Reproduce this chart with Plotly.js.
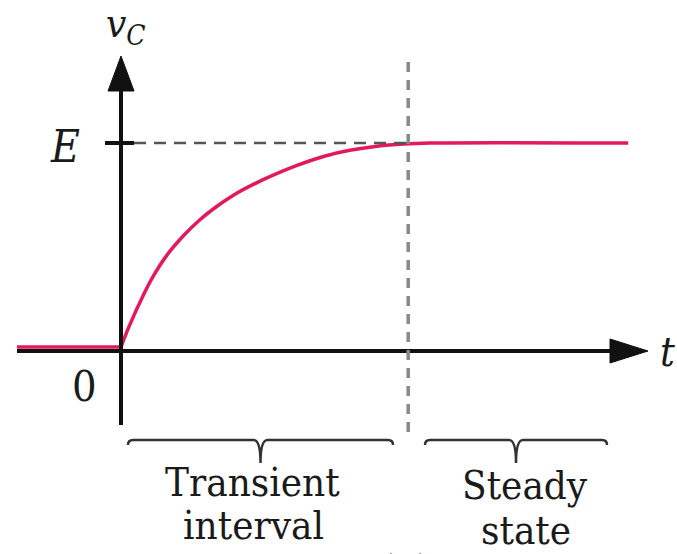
<script src="https://cdn.plot.ly/plotly-3.0.1.min.js"></script>
<style>
  body { margin: 0; background: #fff; }
  #chart { width: 677px; height: 554px; }
</style>
<div id="chart"></div>

<script>
// capacitor voltage (t in units of tau, v in units of E)
const restT  = [-1.3, 0];
const restV  = [0, 0];
const tVals  = [0, 0.10, 0.28, 0.40, 0.57, 0.78, 0.99, 1.20, 1.40, 1.70, 1.86, 2.20, 2.53, 2.86, 3.20, 3.53, 3.86, 6.34];
const vcVals = [0, 0.10, 0.255, 0.345, 0.448, 0.545, 0.625, 0.69, 0.743, 0.806, 0.835, 0.89, 0.934, 0.964, 0.984, 0.995, 1, 1];

const E = 1;           // final value
const tSteady = 3.59;  // where the steady state starts
const regionNames = ["Transient", "interval"];
const steadyNames = ["Steady", "state"];

// picture geometry: origin of the sketch and how many pixels one unit takes
const X0 = 121, PXT = 80;
const Y0 = 347, PXV = 204;
const W = 677, H = 554;
function tx(px) { return (px - X0) / PXT; }
function vy(py) { return (Y0 - py) / PXV; }

const ink = "#111";
const curveColor = "#e3195e";
const serif = "DejaVu Serif Condensed, DejaVu Serif, serif";

// filled triangle for an arrow tip
function tri(pts) {
  return "M " + pts.map(p => p[0] + "," + p[1]).join(" L ") + " Z";
}

// curly brace under the time axis between t0 and t1
function brace(t0, t1) {
  const yb = vy(440), tip = vy(463), hook = vy(445);
  const c = (t0 + t1) / 2;
  const w = 7 / PXT, s = 5 / PXT;
  return "M " + t0 + "," + hook +
    " Q " + t0 + "," + yb + " " + (t0 + s) + "," + yb +
    " L " + (c - w) + "," + yb +
    " Q " + c + "," + yb + " " + c + "," + tip +
    " Q " + c + "," + yb + " " + (c + w) + "," + yb +
    " L " + (t1 - s) + "," + yb +
    " Q " + t1 + "," + yb + " " + t1 + "," + hook;
}

const shapes = [
  // time axis
  { type: "line", xref: "x", yref: "y", x0: tx(17), x1: tx(614), y0: vy(351), y1: vy(351),
    line: { color: ink, width: 4 } },
  { type: "path", xref: "x", yref: "y", fillcolor: ink, line: { color: ink, width: 1 },
    path: tri([[tx(648), vy(351)], [tx(610), vy(339)], [tx(610), vy(363)]]) },
  // voltage axis
  { type: "line", xref: "x", yref: "y", x0: 0, x1: 0, y0: vy(425), y1: vy(88),
    line: { color: ink, width: 4 } },
  { type: "path", xref: "x", yref: "y", fillcolor: ink, line: { color: ink, width: 1 },
    path: tri([[0, vy(56)], [tx(108), vy(91)], [tx(134), vy(91)]]) },
  // E tick
  { type: "line", xref: "x", yref: "y", x0: tx(105), x1: tx(134), y0: E, y1: E,
    line: { color: ink, width: 4 } },
  // guide lines
  { type: "line", xref: "x", yref: "y", x0: tx(134), x1: tSteady, y0: E, y1: E,
    line: { color: "#555", width: 2.5, dash: "12px,8px" } },
  { type: "line", xref: "x", yref: "y", x0: tSteady, x1: tSteady, y0: vy(62), y1: vy(437),
    line: { color: "#888", width: 3.5, dash: "10px,8px" } },
  // braces
  { type: "path", xref: "x", yref: "y", line: { color: "#333", width: 2.5 },
    path: brace(tx(128), tx(393)) },
  { type: "path", xref: "x", yref: "y", line: { color: "#333", width: 2.5 },
    path: brace(tx(425), tx(607)) }
];

function label(text, px, py, size) {
  return { text: text, xref: "x", yref: "y", x: tx(px), y: vy(py), showarrow: false,
    xanchor: "center", yanchor: "middle", font: { family: serif, size: size, color: "#1a1a1a" } };
}

const annotations = [
  label("<i>v</i><sub><i>C</i></sub>", 126, 26, 40),
  label("<i>E</i>", 65, 146, 44),
  label("0", 84, 386, 43),
  label("<i>t</i>", 667, 352, 41),
  label(regionNames[0], 252, 482, 40),
  label(regionNames[1], 253, 525, 40),
  label(steadyNames[0], 525, 485, 40),
  label(steadyNames[1], 526, 530, 40),
  // figure tag, mostly below the bottom edge
  { text: "(b)", xref: "paper", yref: "paper", x: 405 / W, y: 1 - 544 / H, showarrow: false,
    xanchor: "center", yanchor: "top", font: { family: serif, size: 40, color: "#1a1a1a" } }
];

const flat = {
  x: restT, y: restV, type: "scatter", mode: "lines",
  line: { color: curveColor, width: 3.5 }, hoverinfo: "skip"
};
const rise = {
  x: tVals, y: vcVals, type: "scatter", mode: "lines",
  line: { color: curveColor, width: 3.5, shape: "spline", smoothing: 1 }, hoverinfo: "skip"
};

Plotly.newPlot("chart", [flat, rise], {
  width: W,
  height: H,
  margin: { l: 0, r: 0, t: 0, b: 0 },
  paper_bgcolor: "#fff",
  plot_bgcolor: "#fff",
  showlegend: false,
  xaxis: { range: [tx(0), tx(W)], visible: false, fixedrange: true },
  yaxis: { range: [vy(H), vy(0)], visible: false, fixedrange: true },
  shapes: shapes,
  annotations: annotations
}, { displayModeBar: false, staticPlot: true });
</script>
